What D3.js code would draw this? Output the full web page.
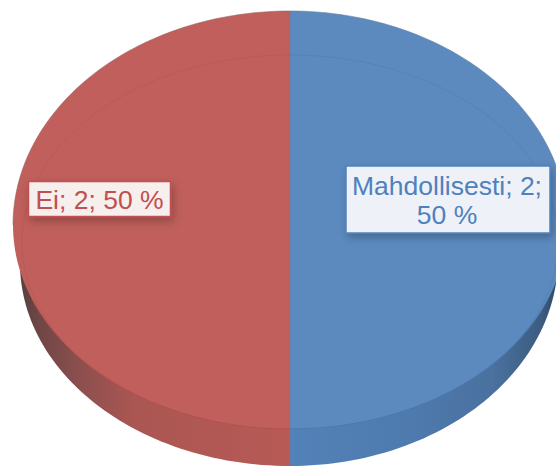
<!DOCTYPE html>
<html><head><meta charset="utf-8">
<script src="https://cdnjs.cloudflare.com/ajax/libs/d3/7.8.5/d3.min.js"></script>
<style>html,body{margin:0;padding:0;background:#fff}svg{display:block}</style>
</head><body><svg id="c" width="556" height="466"></svg>
<script>
const categories = ["Mahdollisesti", "Ei"];
const values = [2, 2];
const faceColors = ["#5c8abf", "#c05f5b"];
const rimColors = ["#4c78ae", "#b2524e"];
const edgeColors = ["#5f7a9c", "#8f6261"];
const textColors = ["#4f81bd", "#c0504d"];
const boxFills = ["#eef2f8", "#f7eeee"];
const sideStops = [
  [["0%","#5382b8"],["45%","#4e7aae"],["75%","#4a719f"],["93%","#3c5c80"],["100%","#2e4763"]],
  [["0%","#584040"],["7%","#6f4645"],["22%","#8c4f4e"],["42%","#aa5652"],["100%","#b85a56"]]
];

const svg = d3.select("#c");
const defs = svg.append("defs");
const f = defs.append("filter").attr("id","sh").attr("x","-20%").attr("y","-30%").attr("width","140%").attr("height","170%");
f.append("feDropShadow").attr("dx",2).attr("dy",4).attr("stdDeviation",4).attr("flood-color","#000").attr("flood-opacity",0.25);

const total = d3.sum(values);
const pie = d3.pie().sort(null)(values);
const fmt = d => (d.data / total * 100).toFixed(0);

const face = {cx:290, cy:225, rx:277, top:214, bot:204};
const ring = {cx:290, cy:242, rx:268, top:187, bot:187};
const sides = [{cx:290, cy:258, rx:268, top:208, bot:208}, {cx:290, cy:263, rx:270, top:203, bot:203}];
const pt = (e, a) => [e.cx + e.rx*Math.sin(a), e.cy - (Math.cos(a) > 0 ? e.top : e.bot)*Math.cos(a)];
const line = d3.line();
const arcPts = (e, s, t) => d3.range(0, 121).map(i => pt(e, s + (t - s)*i/120));
const wedge = (e, d) => line([[e.cx, e.cy], ...arcPts(e, d.startAngle, d.endAngle)]) + "Z";

// side wall
pie.forEach((d,i) => {
  const g = defs.append("linearGradient").attr("id","sg"+i)
    .attr("gradientUnits","userSpaceOnUse")
    .attr("x1", i===0 ? 290 : 20).attr("x2", i===0 ? 560 : 290).attr("y1",0).attr("y2",0);
  sideStops[i].forEach(s => g.append("stop").attr("offset",s[0]).attr("stop-color",s[1]));
  svg.append("path").attr("d", wedge(sides[i], d)).attr("fill", `url(#sg${i})`);
});
// top face
pie.forEach((d,i) => {
  svg.append("path").attr("d", wedge(face, d)).attr("fill", faceColors[i]);
});
// edge hints and bevel ring
pie.forEach((d,i) => {
  svg.append("path").attr("d", line(arcPts(ring, d.startAngle, d.endAngle)))
    .attr("fill","none").attr("stroke", rimColors[i]).attr("stroke-width",1).attr("stroke-opacity",0.4);
  const bottom = i===0 ? [Math.PI*0.62, Math.PI] : [Math.PI, Math.PI*1.38];
  svg.append("path").attr("d", line(arcPts(face, bottom[0], bottom[1])))
    .attr("fill","none").attr("stroke", rimColors[i]).attr("stroke-width",1).attr("stroke-opacity",0.8);
  const upper = i===0 ? [0, Math.PI*0.5] : [Math.PI*1.5, Math.PI*2];
  svg.append("path").attr("d", line(arcPts(face, upper[0], upper[1])))
    .attr("fill","none").attr("stroke", edgeColors[i]).attr("stroke-width",0.8).attr("stroke-opacity",0.7);
});
svg.append("path").attr("d", line([[290,11],[290,466]])).attr("stroke","#8a6a80").attr("stroke-width",0.8).attr("stroke-opacity",0.5);

// labels
const boxes = [{x:346,y:166,w:204,h:67},{x:28.5,y:181.5,w:142,h:35}];
const baselines = [[195,224],[209]];
pie.forEach((d,i) => {
  const b = boxes[i], n = d.data;
  const full = `${categories[i]}; ${n}; ${fmt(d)} %`;
  const lines = i===0 ? [`${categories[i]}; ${n};`, `${fmt(d)} %`] : [full];
  svg.append("rect").attr("x",b.x).attr("y",b.y).attr("width",b.w).attr("height",b.h)
    .attr("fill",boxFills[i]).attr("stroke",textColors[i]).attr("stroke-width",1.5).attr("filter","url(#sh)");
  lines.forEach((t,j) => svg.append("text").attr("x",b.x+b.w/2 + (i===0?-1:0)).attr("y",baselines[i][j])
    .attr("text-anchor","middle").attr("font-family","'Liberation Sans',Arial,sans-serif")
    .attr("font-size",26.5).attr("fill",textColors[i]).text(t));
});
</script></body></html>
